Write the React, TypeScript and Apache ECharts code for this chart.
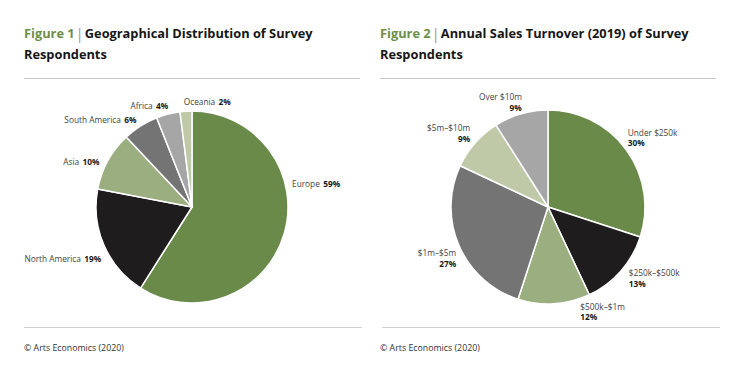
import React, { useEffect, useRef } from "react";
import * as echarts from "echarts";

const regionNames = ["Europe", "North America", "Asia", "South America", "Africa", "Oceania"];
const regionValues = [59, 19, 10, 6, 4, 2];
const regionColors = ["#6a8a4a", "#1e1c1c", "#9aae7f", "#737473", "#a6a6a6", "#bfc9a8"];

const turnoverNames = ["Under $250k", "$250k–$500k", "$500k–$1m", "$1m–$5m", "$5m–$10m", "Over $10m"];
const turnoverValues = [30, 13, 12, 27, 9, 9];
const turnoverColors = ["#6a8a4a", "#1e1c1c", "#9aae7f", "#737473", "#bfc9a8", "#a6a6a6"];

const titles = [
  { fig: "Figure 1", line1: "Geographical Distribution of Survey", line2: "Respondents" },
  { fig: "Figure 2", line1: "Annual Sales Turnover (2019) of Survey", line2: "Respondents" },
];
const sourceText = "© Arts Economics (2020)";

// label nudges (styling only)
const nudges1 = [
  { dx: -1, dy: -51 },
  { dx: 6, dy: 12 },
  { dx: 0, dy: 3 },
  { dx: 3, dy: -3 },
  { dx: 6, dy: -5 },
  { dx: 3, dy: -6, align: "left" },
];
const nudges2 = [
  { dx: -7, dy: -10 },
  { dx: 0, dy: 4 },
  { dx: 21, dy: 3.5 },
  { dx: 6, dy: 11 },
  { dx: 3, dy: -7 },
  { dx: 7, dy: -8 },
];

const FONT = "'Open Sans', 'Noto Sans', sans-serif";

export default function App() {
  const ref = useRef<HTMLDivElement>(null);
  useEffect(() => {
    const chart = echarts.init(ref.current!, null, { renderer: "svg" });
    const titleOpt = (t: any, left: number) => ({
      left,
      top: 22.5,
      text: `{f|${t.fig}}{s||}{t|${t.line1}}\n{t|${t.line2}}`,
      textStyle: {
        rich: {
          f: { color: "#6d8f47", fontSize: 12.8, fontWeight: "bold", fontFamily: FONT, lineHeight: 21 },
          s: { color: "#9a9a9a", fontSize: 15, fontWeight: "normal", fontFamily: FONT, lineHeight: 21, padding: [0, 1, 0, 1] },
          t: { color: "#161616", fontSize: 12.8, fontWeight: "bold", fontFamily: FONT, lineHeight: 21 },
        },
      },
      padding: 0,
    });
    const mkLayout = (nudges: any[]) => (p: any) => {
      const n = nudges[p.dataIndex] || {};
      const o: any = { dx: n.dx || 0, dy: n.dy || 0 };
      if (n.align) o.align = n.align;
      return o;
    };
    const pieBase = {
      type: "pie",
      startAngle: 90,
      clockwise: true,
      avoidLabelOverlap: false,
      itemStyle: { borderColor: "#ffffff", borderWidth: 1.5 },
      labelLine: { show: false, length: 4, length2: 0 },
      emphasis: { disabled: true },
    };
    chart.setOption({
      animation: false,
      backgroundColor: "#ffffff",
      title: [titleOpt(titles[0], 24), titleOpt(titles[1], 380)],
      graphic: [
        { type: "line", shape: { x1: 24, y1: 78.5, x2: 360, y2: 78.5 }, style: { stroke: "#c8c8c8", lineWidth: 1 } },
        { type: "line", shape: { x1: 380, y1: 78.5, x2: 716, y2: 78.5 }, style: { stroke: "#c8c8c8", lineWidth: 1 } },
        { type: "line", shape: { x1: 24, y1: 327.5, x2: 362, y2: 327.5 }, style: { stroke: "#d0d0d0", lineWidth: 1 } },
        { type: "line", shape: { x1: 382, y1: 327.5, x2: 720, y2: 327.5 }, style: { stroke: "#d0d0d0", lineWidth: 1 } },
        { type: "text", x: 24, y: 348, style: { text: sourceText, fill: "#333333", font: `8.8px ${FONT}`, textVerticalAlign: "middle" } },
        { type: "text", x: 380, y: 348, style: { text: sourceText, fill: "#333333", font: `8.8px ${FONT}`, textVerticalAlign: "middle" } },
      ],
      series: [
        {
          ...pieBase,
          center: [192, 207],
          radius: [0, 96],
          data: regionNames.map((name, i) => ({ name, value: regionValues[i], itemStyle: { color: regionColors[i] } })),
          label: {
            show: true,
            position: "outside",
            formatter: (p: any) => `{n|${p.name}} {p|${p.value}%}`,
            rich: {
              n: { fontSize: 8.3, color: "#444444", fontFamily: FONT },
              p: { fontSize: 8.3, color: "#1a1a1a", fontWeight: "bold", fontFamily: FONT },
            },
          },
          labelLayout: mkLayout(nudges1),
        },
        {
          ...pieBase,
          center: [548, 207],
          radius: [0, 97],
          data: turnoverNames.map((name, i) => ({ name, value: turnoverValues[i], itemStyle: { color: turnoverColors[i] } })),
          label: {
            show: true,
            position: "outside",
            formatter: (p: any) => `{n|${p.name}}\n{p|${p.value}%}`,
            rich: {
              n: { fontSize: 8.3, color: "#444444", fontFamily: FONT, lineHeight: 10.5 },
              p: { fontSize: 8.3, color: "#1a1a1a", fontWeight: "bold", fontFamily: FONT, lineHeight: 10.5 },
            },
          },
          labelLayout: mkLayout(nudges2),
        },
      ],
    });
    return () => chart.dispose();
  }, []);
  return <div ref={ref} style={{ position: "fixed", left: 0, top: 0, width: 736, height: 381 }} />;
}
